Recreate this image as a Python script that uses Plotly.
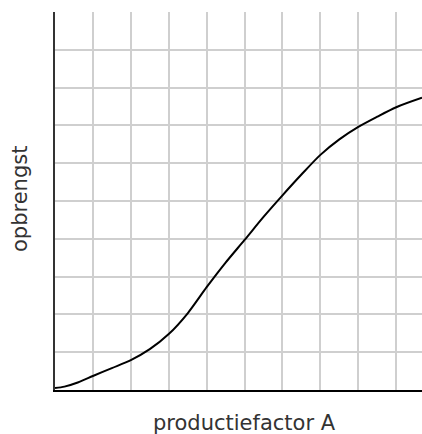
import plotly.graph_objects as go

# productiefactor A (grid units) and opbrengst (grid units)
factor_a = [0.0, 0.25, 0.6, 1.0, 1.5, 2.0, 2.5, 3.0, 3.5, 4.0, 4.5, 5.0, 5.5, 6.0, 6.5, 7.0, 7.5, 8.0, 8.5, 9.0, 9.68]
opbrengst = [0.05, 0.09, 0.2, 0.37, 0.58, 0.79, 1.08, 1.48, 2.03, 2.72, 3.37, 3.97, 4.58, 5.15, 5.7, 6.22, 6.63, 6.96, 7.23, 7.48, 7.73]

grid_x = list(range(0, 10))
grid_y = list(range(0, 11))

x_title = "productiefactor A"
y_title = "opbrengst"

fig = go.Figure()
fig.add_trace(go.Scatter(
    x=factor_a, y=opbrengst, mode="lines",
    line=dict(color="black", width=2, shape="spline", smoothing=0.8),
    hoverinfo="skip", showlegend=False,
))

title_font = dict(family="DejaVu Sans", size=21, color="#333")

fig.update_layout(
    width=422, height=434,
    margin=dict(l=55, r=0, t=12, b=44),
    paper_bgcolor="white", plot_bgcolor="white",
    font=title_font,
    xaxis=dict(range=[0, 9.68], tickvals=grid_x, showticklabels=False, ticks="",
               showgrid=True, gridcolor="#cfcfcf", gridwidth=1.5, zeroline=False,
               showline=True, linecolor="black", linewidth=2),
    yaxis=dict(range=[0, 10], tickvals=grid_y, showticklabels=False, ticks="",
               showgrid=True, gridcolor="#cfcfcf", gridwidth=1.5, zeroline=False,
               showline=True, linecolor="#333", linewidth=2),
    annotations=[
        dict(text=x_title, xref="paper", yref="paper", x=0.516, y=0, yshift=-33,
             xanchor="center", yanchor="middle", showarrow=False, font=title_font),
        dict(text=y_title, xref="paper", yref="paper", x=0, xshift=-35, y=0.5, yshift=2,
             xanchor="center", yanchor="middle", showarrow=False, textangle=-90,
             font=title_font),
    ],
)

fig.write_html("out.html", config={"displayModeBar": False},
               post_script="document.body.style.margin='0';document.body.style.overflow='hidden';")
